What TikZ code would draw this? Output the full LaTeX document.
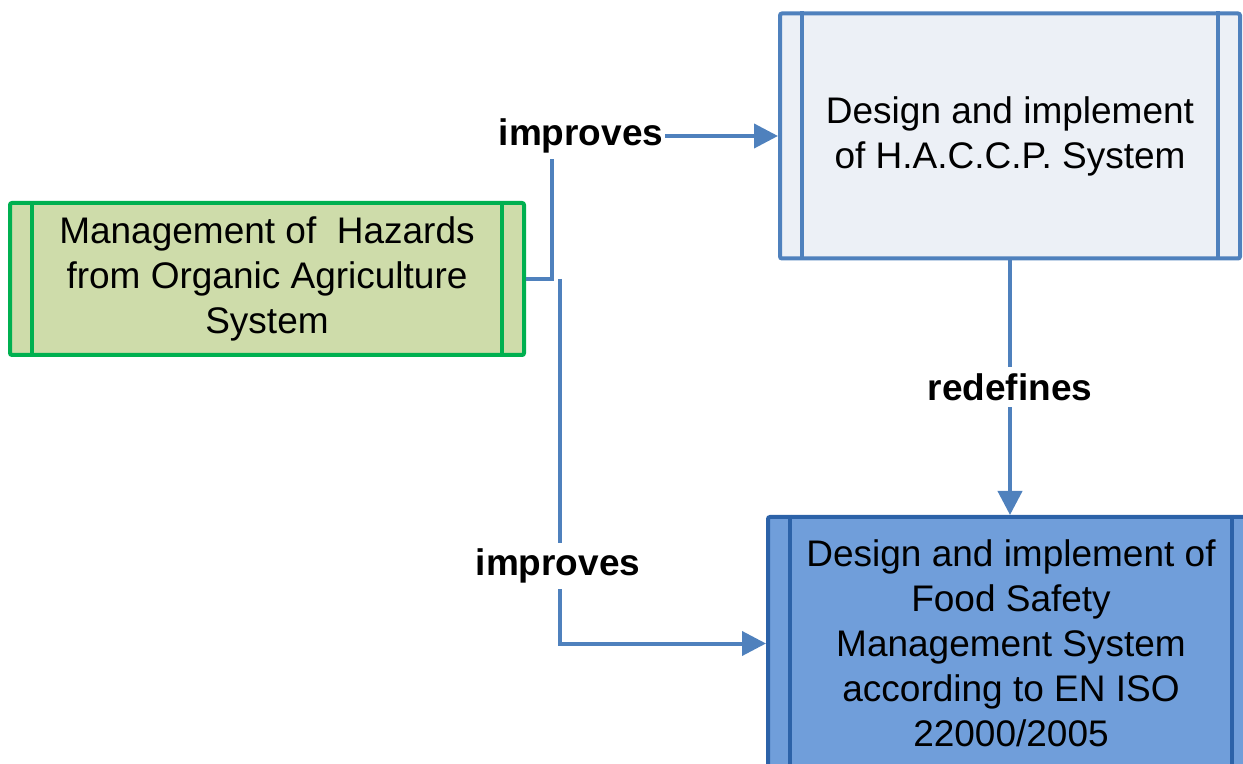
\documentclass[tikz,border=0pt]{standalone}
\usepackage{fontspec}
\setmainfont{Liberation Sans}
\usepackage{xcolor}
\usepackage{tikz}
\usetikzlibrary{arrows.meta}

\definecolor{linkblue}{RGB}{79,129,189}
\definecolor{haccpfill}{RGB}{236,240,246}
\definecolor{fsmsfill}{RGB}{112,158,218}
\definecolor{fsmsline}{RGB}{44,98,168}
\definecolor{orgline}{RGB}{0,176,80}
\definecolor{orgfill}{RGB}{206,220,170}

\tikzset{
  procbox/.style = {rectangle, rounded corners=1pt, line width=2pt, align=center,
                    font=\fontsize{18.5}{22.5}\selectfont},
  link/.style    = {draw=linkblue, line width=2pt,
                    -{Triangle[length=12pt,width=12pt]}},
  linklbl/.style = {fill=white, inner xsep=1pt, inner ysep=3pt,
                    font=\fontsize{18.5}{22.5}\selectfont\bfseries},
}

\begin{document}
\begin{tikzpicture}[x=0.5pt, y=-0.5pt]
  \clip (0,0) rectangle (1243,764);

  \node[procbox, draw=orgline, fill=orgfill, minimum width=257pt, minimum height=76pt]
    (hazards) at (267,279) {Management of \ Hazards\\from Organic Agriculture\\System};
  \node[procbox, draw=linkblue, fill=haccpfill, minimum width=230pt, minimum height=122.5pt]
    (haccp) at (1010,136) {Design and implement\\of H.A.C.C.P. System};
  \node[procbox, draw=fsmsline, fill=fsmsfill, minimum width=243pt, minimum height=126.5pt]
    (fsms) at (1011,643.5) {Design and implement of\\Food Safety\\Management System\\according to EN ISO\\22000/2005};

  % side bars of the process boxes
  \foreach \n/\c in {hazards/orgline, haccp/linkblue, fsms/fsmsline} {
    \draw[\c, line width=1.8pt] ([xshift=12pt]\n.north west) -- ([xshift=12pt]\n.south west);
    \draw[\c, line width=1.8pt] ([xshift=-12pt]\n.north east) -- ([xshift=-12pt]\n.south east);
  }

  \coordinate (fork) at (552,279);
  \coordinate (split) at (560,279);

  \draw[link] (hazards.east) -- (fork) |- (haccp.west);
  \draw[link] (split) |- (fsms.west);
  \draw[link] (haccp.south) -- (haccp.south |- fsms.north);

  \node[linklbl] (imp1) at (581,136) {improves};
  \node[linklbl] (imp2) at (558,566) {improves};
  \node[linklbl] (redef) at (1010,387) {redefines};
\end{tikzpicture}
\end{document}
